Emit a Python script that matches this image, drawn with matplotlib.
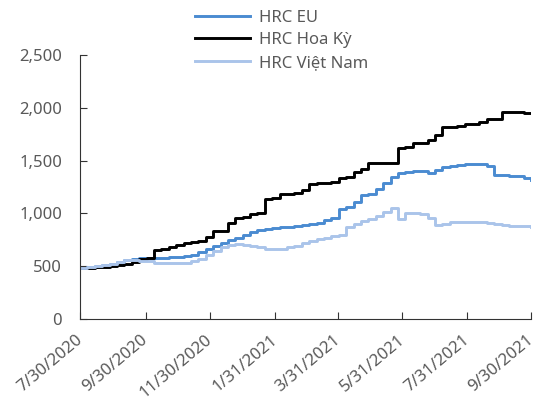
import pandas as pd
import matplotlib.pyplot as plt
from matplotlib.transforms import ScaledTranslation

plt.rcParams['font.family'] = ['Noto Sans', 'DejaVu Sans']

# weekly prices, 7/30/2020 -> 9/30/2021
weeks = pd.date_range('2020-07-30', '2021-09-30', freq='7D')

hrc_eu = [480, 490, 500, 515, 525, 540, 555, 565, 575, 580,
          580, 580, 585, 590, 595, 610, 630, 660, 690, 720,
          750, 770, 800, 825, 840, 850, 860, 870, 870, 880,
          890, 900, 910, 940, 960, 1040, 1060, 1110, 1170, 1180,
          1230, 1290, 1345, 1380, 1390, 1400, 1400, 1385, 1415, 1440,
          1445, 1455, 1465, 1470, 1465, 1450, 1365, 1360, 1355, 1350,
          1335, 1320]
hrc_us = [480, 485, 490, 495, 505, 515, 525, 540, 570, 580,
          650, 665, 680, 700, 720, 725, 735, 780, 830, 835,
          910, 960, 970, 990, 1000, 1140, 1150, 1180, 1185, 1190,
          1220, 1280, 1285, 1290, 1300, 1340, 1345, 1390, 1420, 1475,
          1478, 1480, 1480, 1620, 1625, 1665, 1670, 1700, 1745, 1815,
          1820, 1830, 1845, 1850, 1865, 1890, 1895, 1960, 1965, 1960,
          1950, 1950]
hrc_vn = [480, 495, 505, 515, 525, 540, 560, 555, 550, 545,
          535, 530, 530, 530, 535, 550, 570, 610, 640, 680,
          700, 710, 700, 690, 680, 665, 660, 665, 680, 695,
          720, 740, 760, 770, 790, 800, 870, 900, 930, 950,
          980, 1010, 1055, 950, 1005, 1000, 995, 960, 890, 900,
          920, 920, 915, 920, 915, 905, 900, 890, 885, 880,
          880, 870]

tick_dates = ['2020-07-30', '2020-09-30', '2020-11-30', '2021-01-31',
              '2021-03-31', '2021-05-31', '2021-07-31', '2021-09-30']
tick_labels = ['7/30/2020', '9/30/2020', '11/30/2020', '1/31/2021',
               '3/31/2021', '5/31/2021', '7/31/2021', '9/30/2021']

fig = plt.figure(figsize=(5.37, 4.17), dpi=100)
ax = fig.add_axes([0.149, 0.235, 0.840, 0.633])

ax.plot(weeks, hrc_eu, color='#4a8bd1', lw=2.1, drawstyle='steps-post', label='HRC EU')
ax.plot(weeks, hrc_us, color='black', lw=2.1, drawstyle='steps-post', label='HRC Hoa Kỳ')
ax.plot(weeks, hrc_vn, color='#aac4ea', lw=2.1, drawstyle='steps-post', label='HRC Việt Nam')

ax.set_ylim(0, 2500)
ax.set_yticks(range(0, 2501, 500))
ax.set_yticklabels([f'{v:,}' for v in range(0, 2501, 500)])
ax.set_xlim(pd.Timestamp(tick_dates[0]), pd.Timestamp(tick_dates[-1]))
ax.set_xticks([pd.Timestamp(d) for d in tick_dates])
ax.set_xticklabels(tick_labels, rotation=40, ha='right', va='baseline',
                   rotation_mode='anchor')

for s in ['top', 'right']:
    ax.spines[s].set_visible(False)
for s in ['left', 'bottom']:
    ax.spines[s].set_color('#333333')
ax.tick_params(direction='in', length=5, color='#333333', labelsize=12,
               labelcolor='#595959')
ax.tick_params(axis='y', pad=13)
ax.tick_params(axis='x', pad=16)

# date labels end a little right of their ticks
shift = ScaledTranslation(3 / 100, 0, fig.dpi_scale_trans)
for lbl in ax.get_xticklabels():
    lbl.set_transform(lbl.get_transform() + shift)

fig.legend(loc='upper left', bbox_to_anchor=(195 / 537, 1 - 10 / 417),
           frameon=False, fontsize=12, labelcolor='#595959', handlelength=3.3,
           handletextpad=0.55, labelspacing=0.38, borderpad=0, borderaxespad=0)

fig.savefig('out.png', dpi=100)
